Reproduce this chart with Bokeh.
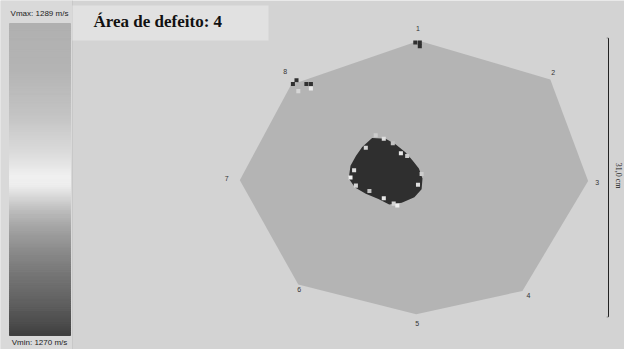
import numpy as np
from bokeh.plotting import figure
from bokeh.models import Range1d
from bokeh.embed import file_html
from bokeh.resources import INLINE
from bokeh.core.properties import value

# ---- tomogram data (cm, origin near the pith) ----
sensor_ids = ["1", "2", "3", "4", "5", "6", "7", "8"]
sensor_x = [0.6, 15.2, 19.4, 12.1, 0.3, -12.8, -19.3, -13.6]
sensor_y = [15.2, 10.9, -0.4, -12.6, -15.2, -11.9, -0.3, 10.3]

# outline of the low-velocity (decayed) zone
defect_x = [-4.6, -3.1, -2.0, -0.9, -0.1, 0.6, 1.0, 0.9, 0.1, -1.3,
            -2.7, -3.9, -5.3, -6.5, -7.2, -7.0, -6.4, -5.7]
defect_y = [4.4, 4.3, 3.7, 2.8, 1.9, 1.0, -0.1, -1.3, -2.2, -2.8,
            -3.0, -2.4, -1.8, -1.1, -0.1, 1.3, 2.4, 3.4]

# isolated low-velocity cells near the sensors
low_cell_x = [0.2, 0.7, 0.7, -13.4, -13.0, -11.9, -11.4]
low_cell_y = [15.0, 15.0, 14.6, 10.4, 10.8, 10.4, 10.4]

# intermediate-velocity cells (bright speckles)
mid_cell_x = [-4.2, -3.3, -2.3, -5.3, -1.4, -0.7, -6.6, -7.0, -6.4, -4.9,
              -3.3, -2.2, -1.8, 0.5, 0.9, -12.8, -11.4]
mid_cell_y = [4.7, 4.3, 3.8, 3.3, 2.7, 2.4, 0.8, 0.0, -0.9, -1.5,
              -2.3, -2.9, -3.1, -0.8, 0.4, 9.6, 9.9]
mid_cell_level = [0.6, 0.8, 0.5, 0.7, 0.9, 0.6, 0.8, 1.0, 0.7, 0.5,
                  0.9, 0.7, 1.0, 0.8, 0.6, 0.7, 0.9]

v_min = 1270
v_max = 1289
defect_area = 4
diameter_cm = 31.0

# ---- page layout helpers (page pixels -> cm) ----
PX_PER_CM = 9.0
CX, CY = 413.0, 177.0
W, H = 624, 349


def sx(px):
    return (px - CX) / PX_PER_CM


def sy(py):
    return (CY - py) / PX_PER_CM


def grey(g):
    g = int(round(g))
    return "#%02x%02x%02x" % (g, g, g)


p = figure(width=W, height=H, output_backend="svg", toolbar_location=None,
           x_range=Range1d(sx(0), sx(W)), y_range=Range1d(sy(H), sy(0)),
           x_axis_location=None, y_axis_location=None, min_border=0,
           background_fill_color="#d3d3d3", border_fill_color="#d3d3d3",
           outline_line_color=None)
p.xgrid.visible = False
p.ygrid.visible = False

# left panel with the velocity scale
p.quad(left=[sx(0)], right=[sx(72)], top=[sy(0)], bottom=[sy(H)],
       fill_color="#d9d9d9", line_color=None)
p.segment(x0=[sx(72)], x1=[sx(72)], y0=[sy(0)], y1=[sy(H)],
          line_color="#c8c8c8", line_width=1)

stops = [(0.0, 176), (0.15, 180), (0.3, 196), (0.42, 220), (0.49, 240),
         (0.52, 238), (0.56, 214), (0.6, 190), (0.65, 166), (0.72, 142),
         (0.8, 119), (0.9, 95), (1.0, 64)]
fr = [s[0] for s in stops]
gv = [s[1] for s in stops]
n = 160
top_px, bot_px = 23.0, 335.0
edges = np.linspace(top_px, bot_px, n + 1)
mids = (edges[:-1] + edges[1:]) / 2
levels = np.interp((mids - top_px) / (bot_px - top_px), fr, gv)
cols = [grey(g) for g in levels]
p.quad(left=sx(9), right=sx(70), top=[sy(e) for e in edges[:-1]],
       bottom=[sy(e) for e in edges[1:]], fill_color=cols, line_color=cols)

p.text(x=[sx(39)], y=[sy(13)], text=[f"Vmax: {v_max} m/s"],
       text_font=value("Liberation Sans"), text_font_size="8px",
       text_color="#222222", text_align="center", text_baseline="middle")
p.text(x=[sx(39)], y=[sy(342)], text=[f"Vmin: {v_min} m/s"],
       text_font=value("Liberation Sans"), text_font_size="8px",
       text_color="#222222", text_align="center", text_baseline="middle")

# title box
p.quad(left=[sx(72)], right=[sx(268)], top=[sy(5)], bottom=[sy(40)],
       fill_color="#e1e1e1", line_color=None)
p.text(x=[sx(93)], y=[sy(21)], text=[f"Área de defeito: {defect_area}"],
       text_font=value("Liberation Serif"), text_font_style="bold",
       text_font_size="17px", text_color="#111111",
       text_align="left", text_baseline="middle")

# trunk cross-section
p.patch(sensor_x, sensor_y, fill_color="#b4b4b4", line_color=None)

# decayed zone
p.patch(defect_x, defect_y, fill_color="#2f2f2f", line_color=None)

cell = 0.45
p.rect(x=low_cell_x, y=low_cell_y, width=cell, height=cell,
       fill_color="#303030", line_color=None)
p.rect(x=mid_cell_x, y=mid_cell_y, width=cell, height=cell,
       fill_color=[grey(150 + 90 * t) for t in mid_cell_level], line_color=None)

# sensor numbers
lab_dx = [-1, 3, 9, 6, 1, 1, -13, -6]
lab_dy = [-12, -7, 1, 5, 9, 5, -2, -13]
p.text(x=sensor_x, y=sensor_y, text=sensor_ids, x_offset=lab_dx, y_offset=lab_dy,
       text_font=value("Liberation Sans"), text_font_size="7px",
       text_color="#333333", text_align="center", text_baseline="middle")

# diameter scale bar
bar_x = sx(608)
half = diameter_cm / 2
p.segment(x0=[bar_x], x1=[bar_x], y0=[-half], y1=[half],
          line_color="#222222", line_width=1)
p.segment(x0=[bar_x - 0.2, bar_x - 0.2], x1=[bar_x, bar_x],
          y0=[-half, half], y1=[-half, half], line_color="#888888", line_width=1)
p.text(x=[sx(618)], y=[0.2], text=[f"{diameter_cm:.1f} cm".replace(".", ",")],
       angle=-np.pi / 2, text_font=value("Liberation Serif"),
       text_font_size="8px", text_color="#222222",
       text_align="center", text_baseline="middle")

open("out.html", "w").write(file_html(p, INLINE))
